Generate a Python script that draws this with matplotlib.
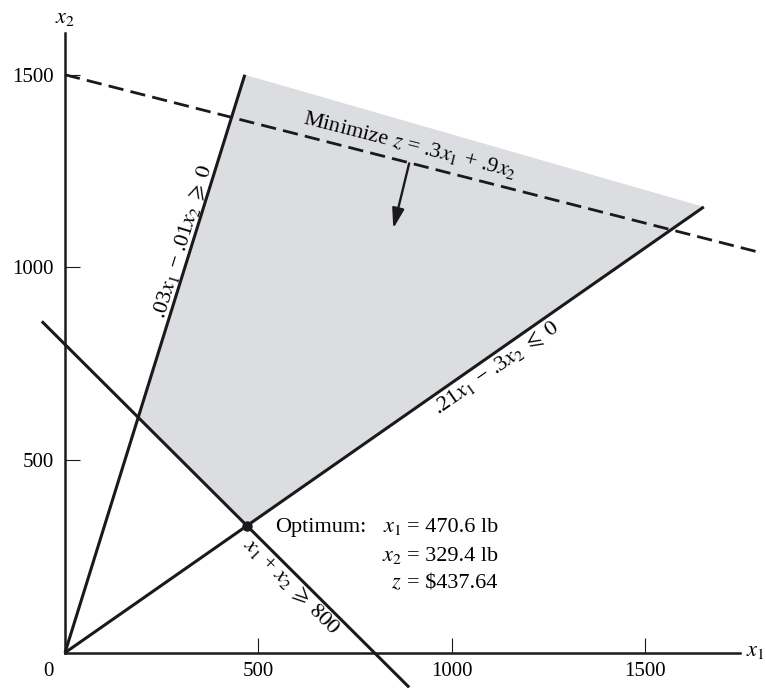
import numpy as np
import matplotlib
matplotlib.use('Agg')
import matplotlib.pyplot as plt

plt.rcParams['font.family'] = ['Liberation Serif', 'DejaVu Serif']
plt.rcParams['mathtext.fontset'] = 'stix'

# ticks
x_ticks = [500, 1000, 1500]
y_ticks = [500, 1000, 1500]

# constraint lines (end points)
ratio_x, ratio_y = [0, 465], [0, 1500]        # .03x1 - .01x2 = 0
blend_x, blend_y = [0, 1652], [0, 1157]       # .21x1 - .3x2 = 0
total_x, total_y = [-60, 890], [860, -90]     # x1 + x2 = 800
obj_x, obj_y = [0, 1800], [1500, 1038]        # objective line
region_x = [189, 465, 1652, 470.6]
region_y = [611, 1500, 1157, 329.4]
opt_x1, opt_x2, opt_z = 470.6, 329.4, 437.64
arrow_from, arrow_to = (890, 1270), (849, 1101)

W, H = 766, 688
fig = plt.figure(figsize=(W / 100, H / 100), dpi=100)
ax = fig.add_axes([0, 0, 1, 1])
ax.set_xlim(-168.1, 1812.8)
ax.set_ylim(-91.6, 1694)

k = '#1a1a1a'
for s in ['top', 'right']:
    ax.spines[s].set_visible(False)
ax.spines['left'].set_position(('data', 0))
ax.spines['bottom'].set_position(('data', 0))
ax.spines['left'].set_bounds(0, 1608)
ax.spines['bottom'].set_bounds(0, 1746)
for s in ['left', 'bottom']:
    ax.spines[s].set_linewidth(1.8)
    ax.spines[s].set_color(k)
ax.set_xticks(x_ticks)
ax.set_yticks(y_ticks)
ax.tick_params(direction='in', length=10.8, width=0.8, color=k, labelsize=15)
ax.tick_params(axis='x', pad=7)
ax.tick_params(axis='y', pad=8)
ax.patch.set_visible(False)

ax.fill(region_x, region_y, color='#dcdde0', lw=0, zorder=1)
for xs, ys in [(ratio_x, ratio_y), (blend_x, blend_y), (total_x, total_y)]:
    ax.plot(xs, ys, color=k, lw=2.2, zorder=3, solid_capstyle='butt', clip_on=False)
ax.plot(obj_x, obj_y, color=k, lw=2.0, dashes=(5.5, 2.6), zorder=3)
ax.plot([opt_x1], [opt_x2], 'o', color=k, ms=6.5, zorder=4)
ax.annotate('', xy=arrow_to, xytext=arrow_from,
            arrowprops=dict(arrowstyle='-|>,head_length=0.6,head_width=0.18',
                            lw=1.7, color=k, mutation_scale=20, shrinkA=0, shrinkB=0))


def angle(xs, ys):
    p = ax.transData.transform(np.column_stack([xs, ys]))
    return np.degrees(np.arctan2(p[1, 1] - p[0, 1], p[1, 0] - p[0, 0]))


fs = 16
ax.text(884, 1290, r'Minimize $z$ = .3$x_1$ + .9$x_2$', fontsize=fs,
        rotation=angle(obj_x, obj_y), rotation_mode='anchor', ha='center', va='bottom')
ax.text(329, 1058, r'.03$x_1$ − .01$x_2\;\geqslant\;0$', fontsize=fs,
        rotation=angle(ratio_x, ratio_y), rotation_mode='anchor', ha='center', va='bottom')
ax.text(1100, 760, r'.21$x_1$ − .3$x_2\;\leqslant\;0$', fontsize=fs,
        rotation=angle(blend_x, blend_y), rotation_mode='anchor', ha='center', va='top')
ax.text(604, 190, r'$x_1$ + $x_2\;\geqslant\;800$', fontsize=fs,
        rotation=angle(total_x, total_y), rotation_mode='anchor', ha='center', va='top')

ax.text(543, 312.5, 'Optimum:', fontsize=fs, ha='left', va='baseline')
rows = [(r'$x_1$', f'= {opt_x1} lb', 312.5), (r'$x_2$', f'= {opt_x2} lb', 238),
        (r'$z$', f'= ${opt_z}', 167)]
for lab, val, yy in rows:
    ax.text(871, yy, lab, fontsize=fs, ha='right', va='baseline')
    ax.text(884, yy, val, fontsize=fs, ha='left', va='baseline')

ax.text(-44, -49, '0', fontsize=15, ha='center', va='center')
ax.text(0, 1645, r'$x_2$', fontsize=fs, ha='center', va='center')
ax.text(1762, 2, r'$x_1$', fontsize=fs, ha='left', va='center')

fig.savefig('out.png', dpi=100)
